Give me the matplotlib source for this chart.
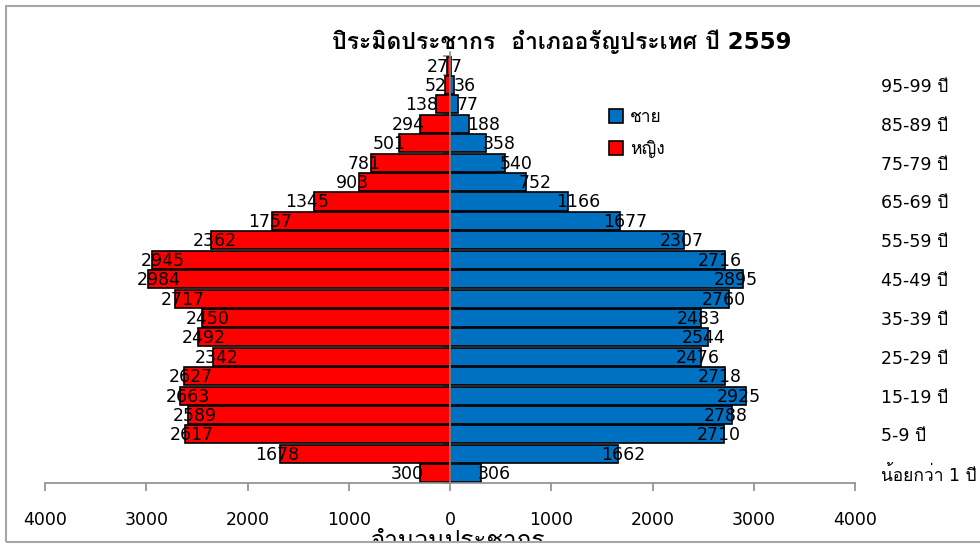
import matplotlib
matplotlib.use("Agg")
import matplotlib.pyplot as plt
from matplotlib.patches import Rectangle

plt.rcParams["font.family"] = ["DejaVu Sans", "Loma"]

# age groups from youngest (bottom) to oldest (top)
age_groups = ["น้อยกว่า 1 ปี", "1-4 ปี", "5-9 ปี", "10-14 ปี", "15-19 ปี",
              "20-24 ปี", "25-29 ปี", "30-34 ปี", "35-39 ปี", "40-44 ปี",
              "45-49 ปี", "50-54 ปี", "55-59 ปี", "60-64 ปี", "65-69 ปี",
              "70-74 ปี", "75-79 ปี", "80-84 ปี", "85-89 ปี", "90-94 ปี",
              "95-99 ปี", "100 ปีขึ้นไป"]
male = [306, 1662, 2710, 2788, 2925, 2718, 2476, 2544, 2483, 2760, 2895,
        2716, 2307, 1677, 1166, 752, 540, 358, 188, 77, 36, 7]
female = [300, 1678, 2617, 2589, 2663, 2627, 2342, 2492, 2450, 2717, 2984,
          2945, 2362, 1757, 1345, 903, 781, 501, 294, 138, 52, 27]
x_ticks = [-4000, -3000, -2000, -1000, 0, 1000, 2000, 3000, 4000]

BLUE = "#0070C0"
RED = "#FF0000"
GREY = "#8C8C8C"

fig = plt.figure(figsize=(9.8, 5.45), dpi=100)
ax = fig.add_axes([45 / 980, 1 - 483 / 545, 810 / 980, 431 / 545])

pos = list(range(len(age_groups)))
ax.barh(pos, male, height=0.93, color=BLUE, edgecolor="black", linewidth=1.2,
        label="ชาย", zorder=2)
ax.barh(pos, [-v for v in female], height=0.93, color=RED, edgecolor="black",
        linewidth=1.2, label="หญิง", zorder=2)

# value labels sit a little inside the bar ends, like the Excel original
for p, m, f in zip(pos, male, female):
    ax.text(0.9 * m, p - 0.05, str(m), ha="left", va="center",
            fontsize=12.5, zorder=4)
    ax.text(10 - 0.894 * f, p - 0.05, str(f), ha="right", va="center",
            fontsize=12.5, zorder=4)

ax.set_xlim(-4000, 4000)
ax.set_ylim(-0.5, len(age_groups) - 0.3)
ax.set_xticks(x_ticks, [str(abs(t)) for t in x_ticks])
ax.tick_params(axis="x", direction="out", length=6, width=1.2, color=GREY,
               pad=14, labelsize=12.5)

# category axis at x = 0 with boundary ticks on the left
for s in ["top", "right"]:
    ax.spines[s].set_visible(False)
ax.spines["bottom"].set_color(GREY)
ax.spines["bottom"].set_linewidth(1.2)
ax.spines["left"].set_position(("data", 0))
ax.spines["left"].set_color(GREY)
ax.spines["left"].set_linewidth(1.2)
ax.spines["left"].set_zorder(3)
ax.set_yticks([p - 0.5 for p in pos] + [len(pos) - 0.5], [])
ax.tick_params(axis="y", direction="out", length=5, width=1.2, color=GREY)

# age labels on the right, every second group
ax_r = ax.twinx()
ax_r.set_ylim(ax.get_ylim())
ax_r.set_yticks(pos[::2], age_groups[::2])
ax_r.tick_params(axis="y", length=0, pad=19, labelsize=12.5)
for s in ax_r.spines.values():
    s.set_visible(False)

ax.set_xlabel("จำนวนประชากร", fontsize=17.5)
ax.xaxis.set_label_coords(0.51, -0.106)

ax.legend(loc="upper left", bbox_to_anchor=(0.686, 0.89), frameon=False,
          fontsize=12.5, handlelength=0.8, handleheight=0.8, handletextpad=0.4,
          labelspacing=0.8, borderpad=0)

fig.text(562 / 980, 1 - 42 / 545, "ปิระมิดประชากร  อำเภออรัญประเทศ ปี 2559",
         ha="center", va="center", fontsize=16.5, fontweight="bold")

# chart border; the axis title is clipped by it at the bottom
fig.patches.append(Rectangle((0, 0), 1, 3 / 545, transform=fig.transFigure,
                             facecolor="white", edgecolor="none", zorder=10))
fig.patches.append(Rectangle((6 / 980, 3 / 545), 1.2, 536 / 545,
                             transform=fig.transFigure, fill=False,
                             edgecolor="#A6A6A6", linewidth=1.5, zorder=11))

fig.savefig("out.png", dpi=100)
